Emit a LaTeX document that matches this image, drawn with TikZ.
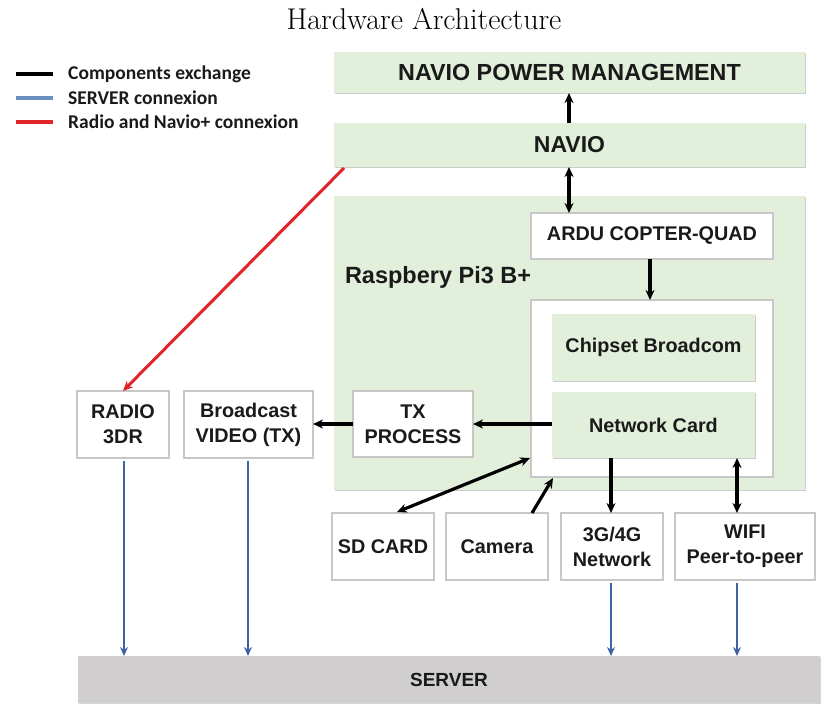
\documentclass[tikz,border=0pt]{standalone}
\usepackage{fontspec}
\usetikzlibrary{arrows.meta,shadows}
\newfontfamily\arialf{Liberation Sans}
\newfontfamily\calf{Carlito}
\definecolor{gbg}{HTML}{E2EFDA}
\definecolor{sgray}{HTML}{D0CECE}
\definecolor{bline}{HTML}{3F62A6}
\definecolor{lblue}{HTML}{6A8FC0}
\definecolor{rline}{HTML}{E02428}
\definecolor{txt}{HTML}{1A1A1A}
\tikzset{
  base/.style={inner sep=0pt, outer sep=0pt, align=center, text=txt,
    font=\arialf\bfseries\fontsize{19.8}{25}\selectfont},
  greenbox/.style={base, fill=gbg, draw=none,
    drop shadow={shadow xshift=0.8pt, shadow yshift=-1.3pt, fill=black!40, opacity=0.5}},
  whitebox/.style={base, fill=white, draw=black!22, line width=1.2pt},
  graybox/.style={base, fill=sgray, draw=none,
    drop shadow={shadow xshift=0.8pt, shadow yshift=-1.3pt, fill=black!40, opacity=0.4}},
  conn/.style={line width=3.2pt, black, -{Stealth[length=10pt,width=9pt]}},
  dconn/.style={line width=3.2pt, black, {Stealth[length=10pt,width=9pt]}-{Stealth[length=10pt,width=9pt]}},
  srv/.style={line width=2.6pt, bline, -{Stealth[length=9pt,width=8pt]}},
  radio/.style={line width=3pt, rline, -{Stealth[length=10pt,width=9pt]}},
  legline/.style={line width=3.4pt},
  legtext/.style={anchor=west, inner sep=0pt, text=txt, font=\calf\bfseries\fontsize{19.5}{22}\selectfont},
}
\begin{document}
\begin{tikzpicture}[x=1pt,y=-1pt]
\useasboundingbox (0,0) rectangle (834,713);
% title
\node[inner sep=0pt, font=\fontsize{30}{34}\selectfont] (title) at (424,19) {Hardware Architecture};
% legend
\coordinate (l1a) at (16,74); \coordinate (l1b) at (53,74);
\coordinate (l2a) at (16,98); \coordinate (l2b) at (53,98);
\coordinate (l3a) at (16,122); \coordinate (l3b) at (53,122);
\draw[legline, black] (l1a) -- (l1b);
\draw[legline, lblue] (l2a) -- (l2b);
\draw[legline, rline] (l3a) -- (l3b);
\node[legtext] (lt1) at (68,74) {Components exchange};
\node[legtext] (lt2) at (68,98) {SERVER connexion};
\node[legtext] (lt3) at (68,122) {Radio and Navio+ connexion};
% top boxes
\node[greenbox, minimum width=471pt, minimum height=41pt, font=\arialf\bfseries\fontsize{23.3}{27}\selectfont] (npm) at (569.5,72.5) {NAVIO POWER MANAGEMENT};
\node[greenbox, minimum width=471pt, minimum height=44pt, font=\arialf\bfseries\fontsize{23}{27}\selectfont] (navio) at (569.5,145) {NAVIO};
% raspberry
\node[greenbox, minimum width=471pt, minimum height=294pt] (rpi) at (569.5,343) {};
\node[base, anchor=west, font=\arialf\bfseries\fontsize{23.5}{27}\selectfont] (rpilbl) at (345,277) {Raspbery Pi3 B+};
\node[whitebox, minimum width=242pt, minimum height=46pt] (ardu) at (652,236) {ARDU COPTER-QUAD};
\node[whitebox, minimum width=242pt, minimum height=177pt] (cont) at (652,388.5) {};
\node[greenbox, minimum width=203pt, minimum height=67pt] (chip) at (653.5,347.5) {Chipset Broadcom};
\node[greenbox, minimum width=203pt, minimum height=66pt] (netc) at (653.5,425) {Network Card};
\node[whitebox, minimum width=120pt, minimum height=66pt] (tx) at (413,424) {TX\\PROCESS};
% left boxes
\node[whitebox, minimum width=129pt, minimum height=67pt] (bcast) at (248.5,424.5) {Broadcast\\VIDEO (TX)};
\node[whitebox, minimum width=92pt, minimum height=67pt] (radio3) at (123,424.5) {RADIO\\3DR};
% bottom boxes
\node[whitebox, minimum width=102pt, minimum height=67pt] (sd) at (383,546.5) {SD CARD};
\node[whitebox, minimum width=102pt, minimum height=67pt] (cam) at (497,546.5) {Camera};
\node[whitebox, minimum width=102pt, minimum height=67pt] (g34) at (612,546.5) {3G/4G\\Network};
\node[whitebox, minimum width=140pt, minimum height=67pt] (wifi) at (745,546.5) {WIFI\\Peer-to-peer};
% server
\node[graybox, minimum width=742pt, minimum height=47pt, font=\arialf\bfseries\fontsize{19}{22}\selectfont] (server) at (449,679.5) {SERVER};
% connectors
\draw[conn] (navio.north -| 569,0) -- (npm.south -| 569,0);
\draw[dconn] (navio.south -| 569,0) -- (ardu.north -| 569,0);
\draw[conn] (ardu.south -| 650,0) -- (cont.north -| 650,0);
\draw[conn] (netc.west |- 0,424) -- (tx.east |- 0,424);
\draw[conn] (tx.west |- 0,424) -- (bcast.east |- 0,424);
\coordinate (redstart) at (344,168);
\draw[radio] (redstart) -- (radio3.north);
\coordinate (sdend) at (530,458);
\draw[dconn] (sdend) -- (397,512);
\coordinate (camend) at (553,478);
\draw[conn] (532,513) -- (camend);
\draw[conn] (netc.south -| 611,0) -- (g34.north -| 611,0);
\draw[dconn] (wifi.north -| 737,0) -- (netc.south -| 737,0);
% server links
\draw[srv] (radio3.south -| 124,0) ++(0,3) -- (server.north -| 124,0);
\draw[srv] (bcast.south -| 248,0) ++(0,3) -- (server.north -| 248,0);
\draw[srv] (g34.south -| 611,0) ++(0,3) -- (server.north -| 611,0);
\draw[srv] (wifi.south -| 737,0) ++(0,3) -- (server.north -| 737,0);
\end{tikzpicture}
\end{document}
